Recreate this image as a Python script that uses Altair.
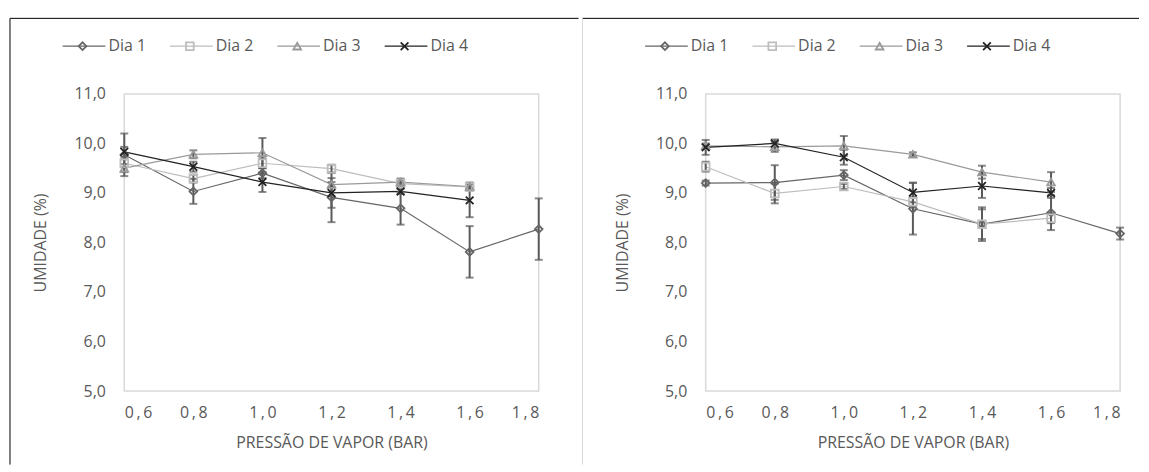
import altair as alt
import pandas as pd

dias = ["Dia 1", "Dia 2", "Dia 3", "Dia 4"]
pressao = [0.6, 0.8, 1.0, 1.2, 1.4, 1.6, 1.8]
umidade_ticks = [5, 6, 7, 8, 9, 10, 11]

# Left panel: means and error (+/-)
esq_dia1 = [9.77, 9.03, 9.40, 8.91, 8.69, 7.81, 8.27]
esq_dia2 = [9.60, 9.29, 9.60, 9.49, 9.19, 9.12, None]
esq_dia3 = [9.50, 9.78, 9.81, 9.17, 9.22, 9.13, None]
esq_dia4 = [9.83, 9.53, 9.22, 9.00, 9.03, 8.85, None]
esq_err1 = [0.43, 0.25, 0.10, 0.50, 0.33, 0.52, 0.62]
esq_err2 = [0.08, 0.08, 0.10, 0.08, 0.05, 0.05, None]
esq_err3 = [0.08, 0.08, 0.30, 0.05, 0.07, 0.08, None]
esq_err4 = [0.10, 0.10, 0.20, 0.30, 0.05, 0.34, None]

# Right panel
dir_dia1 = [9.20, 9.21, 9.36, 8.68, 8.37, 8.60, 8.18]
dir_dia2 = [9.53, 8.99, 9.13, 8.82, 8.37, 8.49, None]
dir_dia3 = [9.95, 9.93, 9.95, 9.78, 9.42, 9.22, None]
dir_dia4 = [9.92, 10.00, 9.72, 9.01, 9.14, 9.00, None]
dir_err1 = [0.05, 0.35, 0.10, 0.52, 0.34, 0.35, 0.12]
dir_err2 = [0.10, 0.20, 0.05, 0.10, 0.30, 0.10, None]
dir_err3 = [0.05, 0.10, 0.20, 0.04, 0.13, 0.20, None]
dir_err4 = [0.15, 0.08, 0.15, 0.20, 0.24, 0.10, None]

cores = ["#666666", "#bdbdbd", "#9a9a9a", "#222222"]
formas = ["diamond", "square", "triangle-up", "M-1,-1L1,1M-1,1L1,-1"]
FONT = "Open Sans"
TXT = "#595959"


def long_df(series, errs):
    rows = []
    for d, vals, es in zip(dias, series, errs):
        for x, y, e in zip(pressao, vals, es):
            if y is None:
                continue
            rows.append({"Dia": d, "x": x, "y": y, "lo": y - e, "hi": y + e})
    return pd.DataFrame(rows)


color = alt.Color("Dia:N", scale=alt.Scale(domain=dias, range=cores), legend=None)
shape = alt.Shape("Dia:N", scale=alt.Scale(domain=dias, range=formas), legend=None)
sw = alt.StrokeWidth("Dia:N", scale=alt.Scale(domain=dias, range=[1.8, 1.8, 1.8, 2.6]), legend=None)
size = alt.Size("Dia:N", scale=alt.Scale(domain=dias, range=[60, 60, 60, 75]), legend=None)

lab_expr = "replace(format(datum.value, '.1f'), '.', ',')"
xlab_expr = "replace(format(datum.value, '.1f'), '.', '\u2009,\u2009')"


def panel(df, left_border, right_end, border_color, leg_range):
    x = alt.X("x:Q", scale=alt.Scale(domain=[0.6, 1.8], nice=False, zero=False),
              axis=alt.Axis(values=pressao, labelExpr=xlab_expr, title="PRESSÃO DE VAPOR (BAR)",
                            labelPadding=14, titleY=52, titleBaseline="middle"))
    y = alt.Y("y:Q", scale=alt.Scale(domain=[5, 11], nice=False, zero=False),
              axis=alt.Axis(values=umidade_ticks, labelExpr=lab_expr, title="UMIDADE (%)",
                            labelPadding=19, titleX=-84, titleY=149.5, titleAngle=-90,
                            titleAlign="center", titleBaseline="middle"))
    base = alt.Chart(df)
    lines = base.mark_line(strokeWidth=1.2).encode(x=x, y=y, color=color)
    bars = base.mark_rule(color="#595959", strokeWidth=2).encode(x=x, y="lo:Q", y2="hi:Q")
    cap_lo = base.mark_tick(orient="horizontal", color="#595959", thickness=2, size=8).encode(x=x, y="lo:Q")
    cap_hi = base.mark_tick(orient="horizontal", color="#595959", thickness=2, size=8).encode(x=x, y="hi:Q")
    pts = base.mark_point(filled=False, opacity=1).encode(x=x, y=y, color=color, shape=shape,
                                                          strokeWidth=sw, size=size)
    data_layer = alt.layer(lines, bars, cap_lo, cap_hi, pts)

    ldf = pd.DataFrame({"Dia": dias, "i": list(range(len(dias)))})
    lx = alt.X("i:Q", scale=alt.Scale(domain=[0, 3], range=leg_range), axis=None)
    lbase = alt.Chart(ldf)
    l_rule = lbase.mark_rule(strokeWidth=1.3, xOffset=-20, x2Offset=23).encode(
        x=lx, x2="i:Q", y=alt.value(-48), color=color)
    l_pt = lbase.mark_point(filled=False, opacity=1).encode(
        x=lx, y=alt.value(-48), color=color, shape=shape, strokeWidth=sw, size=size)
    l_txt = lbase.mark_text(align="left", baseline="middle", dx=26, font=FONT, fontSize=16,
                            color=TXT).encode(x=lx, y=alt.value(-48), text="Dia:N")
    legend_layer = alt.layer(l_rule, l_pt, l_txt)

    one = pd.DataFrame({"k": [0]})
    top = alt.Chart(one).mark_rule(color="#000000", strokeWidth=1).encode(
        x=alt.value(left_border), x2=alt.value(right_end), y=alt.value(-76))
    side = alt.Chart(one).mark_rule(color=border_color, strokeWidth=1).encode(
        x=alt.value(left_border), y=alt.value(-76), y2=alt.value(373))
    frame = alt.layer(top, side)

    return alt.layer(frame, legend_layer, data_layer).resolve_scale(x="independent", y="independent").properties(
        width=417, height=299)


left = panel(long_df([esq_dia1, esq_dia2, esq_dia3, esq_dia4], [esq_err1, esq_err2, esq_err3, esq_err4]),
             -115, 457, "#000000", [-42, 282])
right = panel(long_df([dir_dia1, dir_dia2, dir_dia3, dir_dia4], [dir_err1, dir_err2, dir_err3, dir_err4]),
              -124, 436, "#d9d9d9", [-41, 283])

chart = alt.hconcat(left, right, spacing=0).properties(
    padding={"left": 0, "top": 7, "right": 0, "bottom": 0}
).configure_view(stroke="#d9d9d9", strokeWidth=1.5).configure_axis(
    labelFont=FONT, titleFont=FONT, labelFontSize=16, titleFontSize=16, labelColor=TXT,
    titleColor=TXT, titleFontWeight="normal", domain=False, ticks=False, tickSize=0, grid=False
)

chart.save("out.html", embed_options={"renderer": "svg", "actions": False})
